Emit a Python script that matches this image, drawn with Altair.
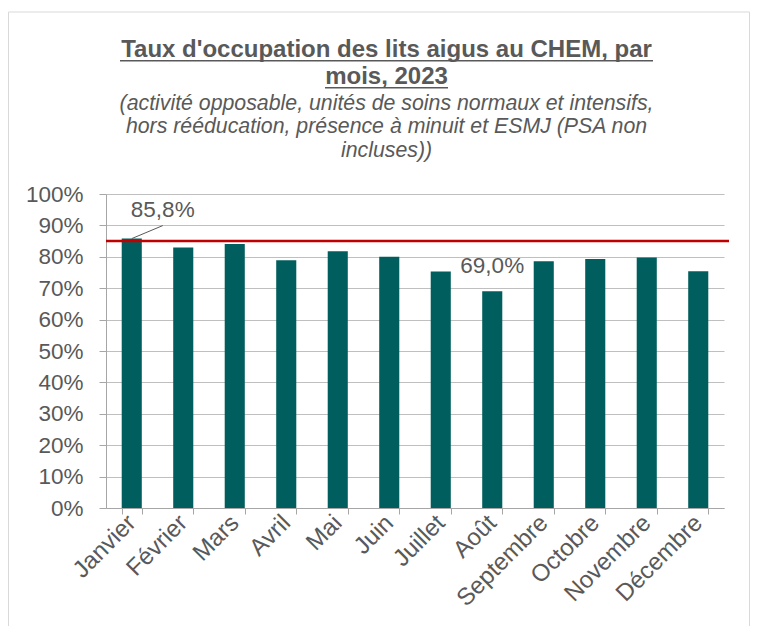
import altair as alt
import pandas as pd

# ---- data ----
months = ["Janvier", "Février", "Mars", "Avril", "Mai", "Juin", "Juillet",
          "Août", "Septembre", "Octobre", "Novembre", "Décembre"]
rates = [0.858, 0.830, 0.841, 0.789, 0.818, 0.800, 0.753,
         0.690, 0.786, 0.793, 0.798, 0.754]
target_rate = [0.85]
y_ticks = [0.0, 0.1, 0.2, 0.3, 0.4, 0.5, 0.6, 0.7, 0.8, 0.9, 1.0]
label_max = ["Janvier"]
label_min = ["Août"]

title_lines = ["Taux d'occupation des lits aigus au CHEM, par", "mois, 2023"]
subtitle_lines = ["(activité opposable, unités de soins normaux et intensifs,",
                  "hors rééducation, présence à minuit et ESMJ (PSA non",
                  "incluses))"]

df = pd.DataFrame({"mois": months, "taux": rates})
df_target = pd.DataFrame({"taux": target_rate})
df_one = pd.DataFrame({"k": [0]})

W, H = 618, 314
GREY = "#595959"
AXIS_GREY = "#a6a6a6"
FONT = "Liberation Sans"
BAR = "#005f5e"

x_scale = alt.Scale(domain=months, paddingInner=0.61, paddingOuter=0.305)
x_axis = alt.Axis(labelAngle=-45, labelAlign="right", labelBaseline="middle",
                  labelFontSize=24, labelColor=GREY,
                  labelFont=FONT, domainColor=AXIS_GREY, tickColor=AXIS_GREY,
                  tickSize=6, tickBand="extent", labelPadding=5, grid=False,
                  labelOverlap=False, title=None)
y_scale = alt.Scale(domain=[0, 1], nice=False)
y_axis = alt.Axis(values=y_ticks, format=".0%", labelFontSize=22.5,
                  labelColor=GREY, labelFont=FONT, labelPadding=16,
                  tickSize=7, tickColor=AXIS_GREY, domainColor=AXIS_GREY,
                  gridColor="#bfbfbf", gridWidth=1, labelOverlap=False,
                  title=None)


def X():
    return alt.X("mois:N", sort=months, scale=x_scale, axis=x_axis)


def Y():
    return alt.Y("taux:Q", scale=y_scale, axis=y_axis)


base = alt.Chart(df)

bars = base.mark_bar(color=BAR).encode(x=X(), y=Y())

target = alt.Chart(df_target).mark_rule(color="#c00000", strokeWidth=2.5).encode(
    y=Y(), x=alt.value(0), x2=alt.value(W + 5)
)

lbl_expr = "replace(format(datum.taux, '.1%'), '.', ',')"

leader = base.transform_filter(
    alt.FieldOneOfPredicate(field="mois", oneOf=label_max)
).mark_rule(color=GREY, strokeWidth=1, x2Offset=31, y2Offset=-13).encode(
    x=alt.X("mois:N", sort=months, scale=x_scale, axis=x_axis, bandPosition=0.5),
    x2=alt.X2("mois", bandPosition=0.5),
    y=Y(), y2=alt.Y2("taux")
)

text_max = base.transform_filter(
    alt.FieldOneOfPredicate(field="mois", oneOf=label_max)
).transform_calculate(lbl=lbl_expr).mark_text(
    dx=31, dy=-22, baseline="alphabetic", fontSize=22.5, color=GREY, font=FONT
).encode(x=X(), y=Y(), text="lbl:N")

text_min = base.transform_filter(
    alt.FieldOneOfPredicate(field="mois", oneOf=label_min)
).transform_calculate(lbl=lbl_expr).mark_text(
    dx=0, dy=-18, baseline="alphabetic", fontSize=22.5, color=GREY, font=FONT
).encode(x=X(), y=Y(), text="lbl:N")

# decoration: chart frame, title text and title underlines
frame = alt.Chart(df_one).mark_rect(
    fill="transparent", stroke="#d9d9d9", strokeWidth=1
).encode(x=alt.value(-97.5), x2=alt.value(643.5), y=alt.value(-182), y2=alt.value(450))

TCX = 280.5
title_layers = []
for i, line in enumerate(title_lines):
    title_layers.append(
        alt.Chart(df_one).mark_text(
            font=FONT, fontSize=24, fontWeight="bold", color=GREY,
            align="center", baseline="alphabetic"
        ).encode(x=alt.value(TCX), y=alt.value(-137 + 27 * i), text=alt.value(line))
    )
for i, line in enumerate(subtitle_lines):
    title_layers.append(
        alt.Chart(df_one).mark_text(
            font=FONT, fontSize=21.3, fontStyle="italic", color=GREY,
            align="center", baseline="alphabetic"
        ).encode(x=alt.value(TCX), y=alt.value(-84 + 23.3 * i), text=alt.value(line))
    )

underline1 = alt.Chart(df_one).mark_rule(color=GREY, strokeWidth=1.5).encode(
    x=alt.value(14), x2=alt.value(547), y=alt.value(-133.3))
underline2 = alt.Chart(df_one).mark_rule(color=GREY, strokeWidth=1.5).encode(
    x=alt.value(219), x2=alt.value(342), y=alt.value(-106.3))

chart = alt.layer(bars, frame, target, leader, text_max, text_min,
                  underline1, underline2, *title_layers).properties(
    width=W, height=H,
    autosize=alt.AutoSizeParams(type="none"),
    padding={"left": 98, "top": 186, "right": 26, "bottom": 118},
).configure_view(stroke=None)

chart.save("out.html", embed_options={"renderer": "svg", "actions": False})
